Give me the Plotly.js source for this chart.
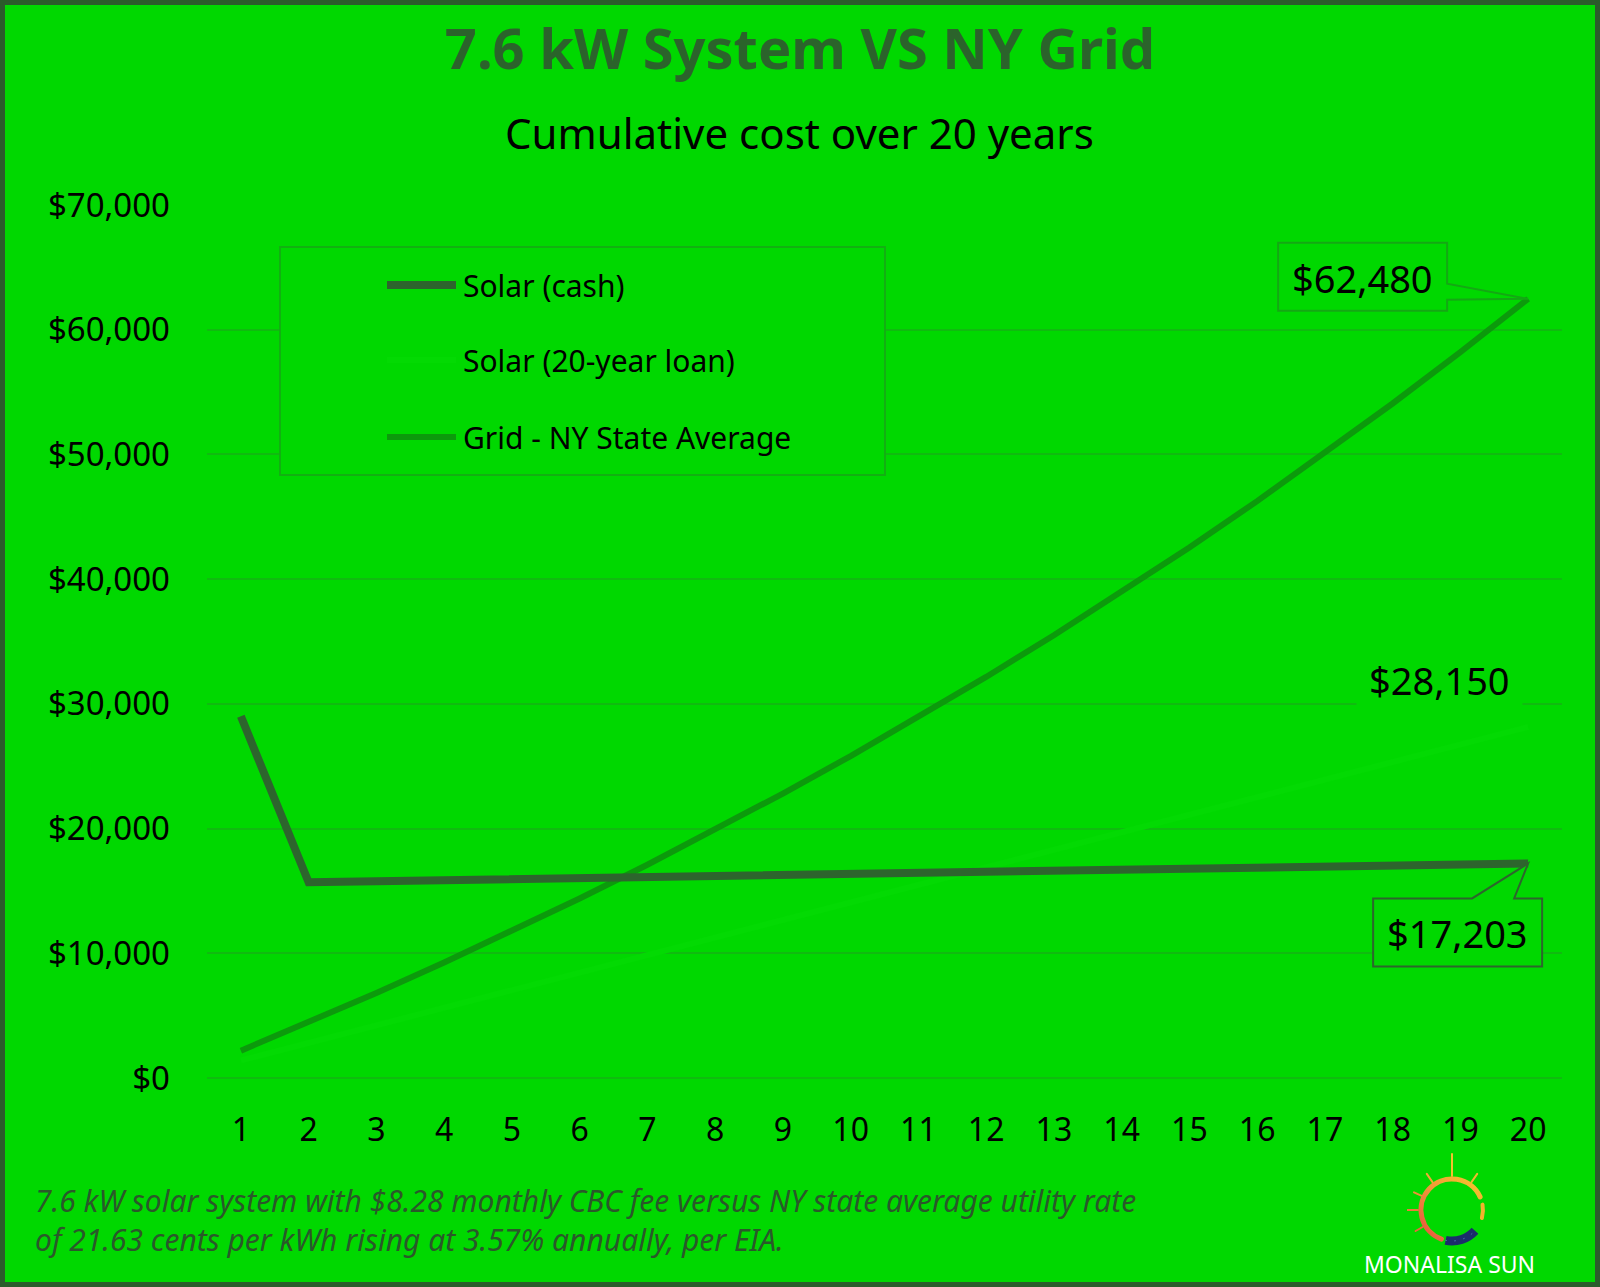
<!DOCTYPE html>
<html><head><meta charset="utf-8">
<script src="https://cdn.plot.ly/plotly-3.0.1.min.js"></script>
<style>html,body{margin:0;padding:0;background:#00d800;}#chart{width:1600px;height:1287px;}</style>
</head><body><div id="chart"></div>
<script>
// ---- data ----
const years = [1,2,3,4,5,6,7,8,9,10,11,12,13,14,15,16,17,18,19,20];
const yearLabels = ['1','2','3','4','5','6','7','8','9','10','11','12','13','14','15','16','17','18','19','20'];
const solarCash = [29000,15691,15775,15859,15943,16027,16111,16195,16279,16363,16447,16531,16615,16699,16783,16867,16951,17035,17119,17203];
const solarLoan = [1408,2815,4223,5630,7038,8445,9853,11260,12668,14075,15483,16890,18298,19705,21113,22520,23928,25335,26743,28150];
const gridAvg = [2194,4465,6818,9255,11779,14393,17100,19904,22808,25816,28931,32158,35499,38960,42545,46257,50102,54085,58209,62480];
const seriesNames = ['Solar (cash)','Solar (20-year loan)','Grid - NY State Average'];
const yTickVals = [0,10000,20000,30000,40000,50000,60000,70000];
const yTickText = ['$0','$10,000','$20,000','$30,000','$40,000','$50,000','$60,000','$70,000'];
const endLabels = ['$62,480','$28,150','$17,203'];
const titleText = '7.6 kW System VS NY Grid';
const subtitleText = 'Cumulative cost over 20 years';
const noteLines = ['7.6 kW solar system with $8.28 monthly CBC fee versus NY state average utility rate',
                   'of 21.63 cents per kWh rising at 3.57% annually, per EIA.'];
const brandText = 'MONALISA SUN';

// ---- layout helpers ----
const L=207, R=1562, T=205, B=1078;
const px = x => (x-L)/(R-L);
const py = y => (B-y)/(B-T);
const BG='#00d800', DARK='#2d652d', GRIDC='#0c9a0c', GRIDLINE='#10bb10', LOANC='#03da03';
const FONT='Noto Sans, sans-serif';

const traces = [
  {x: years, y: solarLoan, name: seriesNames[1], mode:'lines', line:{color:LOANC, width:6}, showlegend:false},
  {x: years, y: gridAvg, name: seriesNames[2], mode:'lines', line:{color:GRIDC, width:6}, showlegend:false},
  {x: years, y: solarCash, name: seriesNames[0], mode:'lines', line:{color:DARK, width:8}, showlegend:false}
];

const last = years[years.length-1];
const shapes = [
  // outer frame
  {type:'rect', xref:'paper', yref:'paper', x0:px(2.5), x1:px(1597.5), y0:py(1284.5), y1:py(2.5),
   line:{color:'#2b5c2b', width:5}, fillcolor:'rgba(0,0,0,0)', layer:'above'},
  // legend box
  {type:'rect', xref:'paper', yref:'paper', x0:px(280), x1:px(885), y0:py(475), y1:py(247),
   line:{color:'#12b012', width:2}, fillcolor:BG, layer:'above'},
  {type:'line', xref:'paper', yref:'paper', x0:px(387), x1:px(456), y0:py(285), y1:py(285), line:{color:DARK, width:8}},
  {type:'line', xref:'paper', yref:'paper', x0:px(387), x1:px(456), y0:py(360), y1:py(360), line:{color:LOANC, width:6}},
  {type:'line', xref:'paper', yref:'paper', x0:px(387), x1:px(456), y0:py(437), y1:py(437), line:{color:GRIDC, width:6}},
  // callouts
  {type:'path', xref:'x', yref:'y', xsizemode:'pixel', ysizemode:'pixel', xanchor:last, yanchor:gridAvg[19],
   path:'M-250,56 L-81,56 L-81,15 L0,0 L-81,-1 L-81,-12 L-250,-12 Z', fillcolor:BG, line:{color:'#14a814', width:2}, layer:'above'},
  {type:'path', xref:'x', yref:'y', xsizemode:'pixel', ysizemode:'pixel', xanchor:last, yanchor:solarCash[19],
   path:'M-155,-35 L-56,-35 L0,0 L-14,-35 L14,-35 L14,-103 L-155,-103 Z', fillcolor:BG, line:{color:DARK, width:2}, layer:'above'}
];

const annotations = [
  {xref:'paper', yref:'paper', x:px(799), y:py(132), text:subtitleText, showarrow:false,
   font:{family:FONT, size:42, color:'#000'}, xanchor:'center', yanchor:'middle'},
  {xref:'paper', yref:'paper', x:px(461), y:py(285), text:seriesNames[0], showarrow:false, font:{family:FONT,size:30,color:'#000'}, xanchor:'left', yanchor:'middle'},
  {xref:'paper', yref:'paper', x:px(461), y:py(360), text:seriesNames[1], showarrow:false, font:{family:FONT,size:30,color:'#000'}, xanchor:'left', yanchor:'middle'},
  {xref:'paper', yref:'paper', x:px(461), y:py(437), text:seriesNames[2], showarrow:false, font:{family:FONT,size:30,color:'#000'}, xanchor:'left', yanchor:'middle'},
  {xref:'x', yref:'y', x:last, y:gridAvg[19], xshift:-166, yshift:21, text:endLabels[0], showarrow:false, font:{family:FONT,size:38,color:'#000'}},
  {xref:'x', yref:'y', x:last, y:solarLoan[19], xshift:-89, yshift:47, text:endLabels[1], showarrow:false, font:{family:FONT,size:38,color:'#000'}, bgcolor:BG, borderpad:12},
  {xref:'x', yref:'y', x:last, y:solarCash[19], xshift:-71, yshift:-70, text:endLabels[2], showarrow:false, font:{family:FONT,size:38,color:'#000'}},
  {xref:'paper', yref:'paper', x:px(33), y:py(1200), text:noteLines[0], showarrow:false, xanchor:'left', yanchor:'middle',
   font:{family:FONT, size:30, color:'#2a582a', style:'italic'}},
  {xref:'paper', yref:'paper', x:px(33), y:py(1239), text:noteLines[1], showarrow:false, xanchor:'left', yanchor:'middle',
   font:{family:FONT, size:30, color:'#2a582a', style:'italic'}},
  {xref:'paper', yref:'paper', x:px(1449), y:py(1264), text:brandText, showarrow:false, xanchor:'center', yanchor:'middle',
   font:{family:FONT, size:23, color:'#ffffff'}}
];

const sunSvg = '<svg xmlns="http://www.w3.org/2000/svg" width="90" height="110" viewBox="0 0 90 110">' +
 '<defs><linearGradient id="g" x1="1" y1="0" x2="0" y2="1"><stop offset="0" stop-color="#f7c62c"/><stop offset="0.55" stop-color="#f0913a"/><stop offset="1" stop-color="#e4503f"/></linearGradient></defs>' +
 '<g stroke-linecap="round" fill="none">' +
 '<path d="M73.1,50.9 A31,31 0 1 0 34.4,93.1" stroke="url(#g)" stroke-width="5"/>' +
 '<path d="M74.9,72 A31,31 0 0 0 75.5,58.6" stroke="#f3b22e" stroke-width="4"/>' +
 '<path d="M38.6,94.3 A31,31 0 0 0 68,84.7" stroke="#1b2d6b" stroke-width="9" stroke-linecap="butt"/>' +
 '<path d="M38.6,94.3 A31,31 0 0 0 68,84.7" stroke="#4a6cb0" stroke-width="1" stroke-dasharray="1 8"/>' +
 '<line x1="45" y1="30" x2="45" y2="8" stroke="#f3c02e" stroke-width="2"/>' +
 '<line x1="64.5" y1="36.1" x2="70.2" y2="27.9" stroke="#f3b82e" stroke-width="2"/>' +
 '<line x1="25.5" y1="36.1" x2="19.8" y2="27.9" stroke="#f2a834" stroke-width="2"/>' +
 '<line x1="14.2" y1="49.6" x2="7" y2="46.3" stroke="#ef8f38" stroke-width="2"/>' +
 '<line x1="11" y1="64" x2="-8" y2="64" stroke="#ec7a3a" stroke-width="2"/>' +
 '<line x1="15.6" y1="81" x2="8.6" y2="85" stroke="#e8683c" stroke-width="2"/>' +
 '</g></svg>';

const layout = {
  width:1600, height:1287, autosize:false,
  paper_bgcolor:BG, plot_bgcolor:BG,
  margin:{l:L, r:1600-R, t:T, b:1287-B, pad:0},
  title:{text:titleText, x:0.5, xref:'container', xanchor:'center', y:1-49/1287, yref:'container', yanchor:'middle',
         font:{family:FONT, size:56, weight:'bold', color:'#2b632b'}},
  xaxis:{range:[0.5,20.5], tickmode:'array', tickvals:years, ticktext:yearLabels, showgrid:false, zeroline:false,
         showline:false, ticks:'', ticklabelstandoff:30, tickfont:{family:FONT, size:32, color:'#000'}, fixedrange:true},
  yaxis:{range:[0,70000], tickmode:'array', tickvals:yTickVals, ticktext:yTickText, showgrid:true, gridcolor:GRIDLINE, gridwidth:2,
         zeroline:true, zerolinecolor:GRIDLINE, zerolinewidth:2, showline:false, ticks:'', ticklabelstandoff:36,
         tickfont:{family:FONT, size:33, color:'#000'}, fixedrange:true},
  showlegend:false,
  shapes:shapes,
  annotations:annotations,
  images:[{source:'data:image/svg+xml;charset=utf-8,'+encodeURIComponent(sunSvg), xref:'paper', yref:'paper',
           x:px(1407), y:py(1146), sizex:90/(R-L), sizey:110/(B-T), xanchor:'left', yanchor:'top', sizing:'stretch', layer:'above'}],
  hovermode:false
};

Plotly.newPlot('chart', traces, layout, {staticPlot:true, displayModeBar:false});
</script></body></html>
